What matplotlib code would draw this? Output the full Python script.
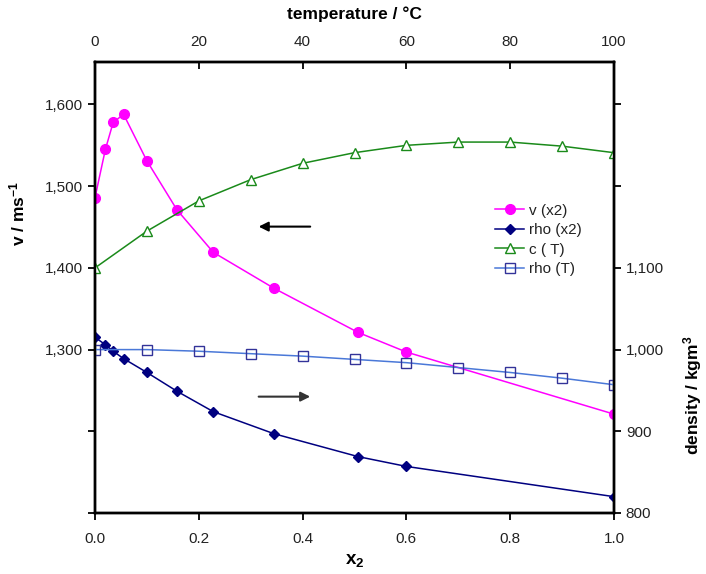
import matplotlib
matplotlib.use("Agg")
import matplotlib.pyplot as plt
from matplotlib.ticker import FixedLocator, FuncFormatter

plt.rcParams["font.family"] = ["Liberation Sans", "DejaVu Sans"]
plt.rcParams["mathtext.fontset"] = "custom"
plt.rcParams["mathtext.rm"] = "Liberation Sans"
plt.rcParams["mathtext.bf"] = "Liberation Sans:bold"
plt.rcParams["mathtext.default"] = "bf"

# speed of sound / density vs mole fraction x2
x2 = [0.0, 0.02, 0.035, 0.055, 0.10, 0.158, 0.228, 0.345, 0.507, 0.60, 1.0]
v_x2 = [1486, 1545, 1578, 1588, 1531, 1471, 1419, 1375, 1321, 1297, 1221]
rho_x2 = [1015, 1006, 998, 989, 972, 949, 924, 897, 869, 857, 820]

# water vs temperature
temp = [0, 10, 20, 30, 40, 50, 60, 70, 80, 90, 100]
c_T = [1400, 1445, 1482, 1508, 1528, 1541, 1550, 1554, 1554, 1549, 1541]
rho_T = [1000, 1000, 998, 995, 992, 988, 984, 978, 972, 965, 957]

v_ticks = [1100, 1200, 1300, 1400, 1500, 1600]
v_labelled = [1300, 1400, 1500, 1600]
rho_ticks = [800, 900, 1000, 1100, 1200, 1300]
rho_labelled = [800, 900, 1000, 1100]

PINK = "#ff00ff"
NAVY = "#000080"
GREEN = "#1a8a1a"
BLUE = "#4a78d8"
SQ = "#333399"


def comma_fmt(shown):
    return FuncFormatter(lambda v, pos: f"{v:,.0f}" if round(v) in shown else "")


fig = plt.figure(figsize=(7.06, 5.74), dpi=100)
ax = fig.add_axes([95 / 706, 61 / 574, 519 / 706, 451 / 574])
ax_r = ax.twinx()
ax_t = ax.twiny()
ax_tr = ax_t.twinx()

l1, = ax.plot(x2, v_x2, "-o", color=PINK, lw=1.1, ms=7, label="v (x2)")
l2, = ax_r.plot(x2, rho_x2, "-D", color=NAVY, lw=1.1, ms=5.5, label="rho (x2)")
l3, = ax_t.plot(temp, c_T, "-^", color=GREEN, lw=1.1, ms=7, mfc="white",
                mec=GREEN, label="c ( T)")
l4, = ax_tr.plot(temp, rho_T, "-s", color=BLUE, lw=1.1, ms=7.5, mfc="none",
                 mec=SQ, label="rho (T)")

ax.set_xlim(0, 1.0)
ax.set_ylim(1100, 1652)
ax_r.set_ylim(800, 1352)
ax_t.set_xlim(0, 100)
ax_tr.set_ylim(800, 1352)

ax.yaxis.set_major_locator(FixedLocator(v_ticks))
ax.yaxis.set_major_formatter(comma_fmt(v_labelled))
ax_r.yaxis.set_major_locator(FixedLocator(rho_ticks))
ax_r.yaxis.set_major_formatter(comma_fmt(rho_labelled))
ax.set_xticks([0.0, 0.2, 0.4, 0.6, 0.8, 1.0])
ax.xaxis.set_major_formatter(FuncFormatter(lambda v, pos: f"{v:.1f}"))
ax_t.set_xticks([0, 20, 40, 60, 80, 100])
ax_tr.set_yticks([])

tick_kw = dict(labelsize=11, labelcolor="#222222", width=1.3, length=5)
ax.tick_params(axis="y", direction="out", **tick_kw)
ax.tick_params(axis="x", direction="out", pad=9, **tick_kw)
ax_r.tick_params(axis="y", direction="out", **tick_kw)
ax_t.tick_params(axis="x", direction="in", pad=9, **tick_kw)

for a in (ax, ax_r, ax_t, ax_tr):
    for s in a.spines.values():
        s.set_linewidth(1.6)
        s.set_color("black")

ax_t.set_xlabel("temperature / \u00b0C", fontsize=12.5, fontweight="bold", labelpad=12)
ax.set_xlabel("x$_2$", fontsize=13.5, fontweight="bold", labelpad=4)
ax.set_ylabel("v / ms$^{-1}$", fontsize=12.5, fontweight="bold")
ax.yaxis.set_label_coords(-0.131, 0.665)
ax_r.set_ylabel("density / kgm$^{3}$", fontsize=12.5, fontweight="bold")
ax_r.yaxis.set_label_coords(1.129, 0.262)

ax_tr.legend(handles=[l1, l2, l3, l4], loc="upper left",
             bbox_to_anchor=(0.745, 0.716), frameon=False, fontsize=11,
             handlelength=1.9, handletextpad=0.3, labelspacing=0.36,
             labelcolor="#222222")

# direction arrows pointing to the relevant y axis
ax.annotate("", xy=(0.31, 0.635), xytext=(0.42, 0.635), xycoords="axes fraction",
            arrowprops=dict(arrowstyle="-|>", color="black", lw=1.5,
                            mutation_scale=14))
ax.annotate("", xy=(0.42, 0.258), xytext=(0.31, 0.258), xycoords="axes fraction",
            arrowprops=dict(arrowstyle="-|>", color="#333333", lw=1.5,
                            mutation_scale=14))

fig.savefig("out.png", dpi=100)
